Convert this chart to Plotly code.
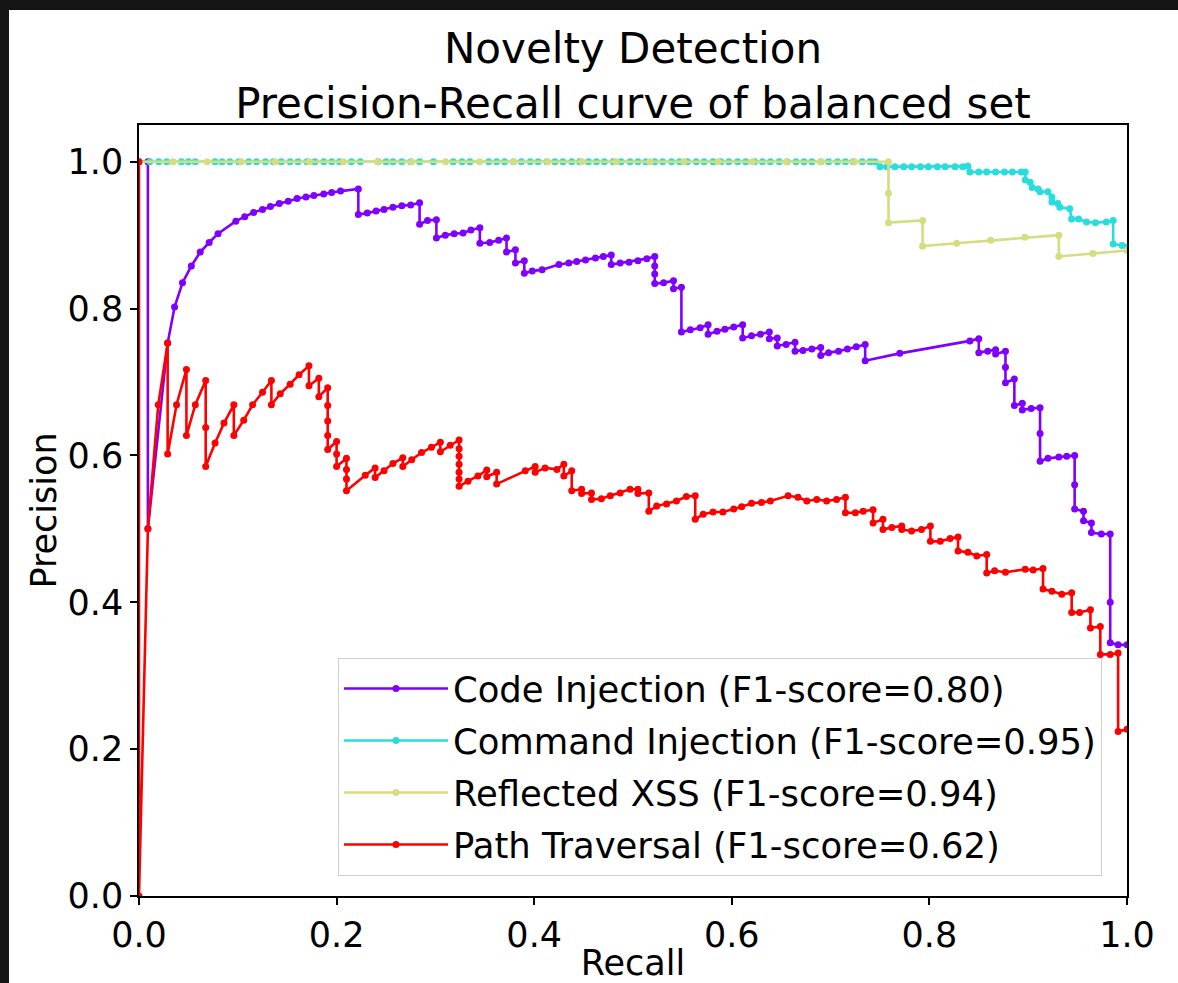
import plotly.graph_objects as go

# ---------------- data (recall, precision) ----------------
code_injection = [
    (0.0, 1.0), (0.009, 1.0), (0.009, 0.5), (0.029, 0.753), (0.036, 0.802), (0.044, 0.835),
    (0.053, 0.858), (0.062, 0.877), (0.071, 0.890), (0.080, 0.902), (0.098, 0.919), (0.107, 0.925),
    (0.116, 0.931), (0.125, 0.935), (0.133, 0.939), (0.142, 0.943), (0.151, 0.946), (0.160, 0.950),
    (0.169, 0.952), (0.177, 0.954), (0.187, 0.956), (0.195, 0.958), (0.204, 0.960), (0.222, 0.963),
    (0.222, 0.928), (0.231, 0.930), (0.240, 0.933), (0.248, 0.935), (0.257, 0.938), (0.266, 0.940),
    (0.275, 0.941), (0.284, 0.944), (0.284, 0.915), (0.292, 0.920), (0.301, 0.921), (0.301, 0.896),
    (0.310, 0.900), (0.319, 0.902), (0.328, 0.903), (0.336, 0.907), (0.345, 0.910), (0.345, 0.889),
    (0.355, 0.890), (0.364, 0.893), (0.372, 0.896), (0.372, 0.877), (0.381, 0.880), (0.381, 0.862),
    (0.390, 0.865), (0.390, 0.848), (0.398, 0.851), (0.408, 0.853), (0.425, 0.860), (0.435, 0.862),
    (0.443, 0.864), (0.452, 0.866), (0.462, 0.869), (0.470, 0.871), (0.478, 0.873), (0.478, 0.860),
    (0.487, 0.862), (0.496, 0.863), (0.505, 0.865), (0.514, 0.868), (0.522, 0.871), (0.522, 0.858),
    (0.522, 0.847), (0.522, 0.834), (0.531, 0.835), (0.541, 0.838), (0.541, 0.827), (0.549, 0.829),
    (0.549, 0.768), (0.558, 0.771), (0.568, 0.774), (0.576, 0.778), (0.576, 0.765), (0.585, 0.769),
    (0.593, 0.772), (0.602, 0.775), (0.611, 0.778), (0.611, 0.760), (0.620, 0.763), (0.629, 0.765),
    (0.638, 0.768), (0.638, 0.759), (0.646, 0.760), (0.646, 0.749), (0.655, 0.751), (0.664, 0.754),
    (0.664, 0.742), (0.672, 0.743), (0.681, 0.745), (0.690, 0.747), (0.690, 0.736), (0.698, 0.740),
    (0.708, 0.742), (0.717, 0.745), (0.726, 0.748), (0.735, 0.751), (0.735, 0.729), (0.770, 0.739),
    (0.841, 0.756), (0.850, 0.759), (0.850, 0.740), (0.859, 0.742), (0.867, 0.744), (0.867, 0.738),
    (0.877, 0.742), (0.877, 0.720), (0.877, 0.699), (0.886, 0.704), (0.886, 0.668), (0.894, 0.671),
    (0.894, 0.662), (0.903, 0.664), (0.912, 0.665), (0.912, 0.630), (0.912, 0.592), (0.920, 0.596),
    (0.931, 0.598), (0.939, 0.599), (0.947, 0.600), (0.947, 0.560), (0.947, 0.527), (0.956, 0.524),
    (0.956, 0.511), (0.964, 0.508), (0.964, 0.495), (0.974, 0.493), (0.983, 0.493), (0.983, 0.400),
    (0.983, 0.345), (0.991, 0.342), (1.0, 0.342),
]

command_injection = [
    (0.0, 1.0), (0.011, 1.0), (0.020, 1.0), (0.028, 1.0), (0.043, 1.0), (0.050, 1.0), (0.057, 1.0),
    (0.077, 1.0), (0.084, 1.0), (0.092, 1.0), (0.101, 1.0), (0.111, 1.0), (0.119, 1.0), (0.128, 1.0),
    (0.136, 1.0), (0.144, 1.0), (0.153, 1.0), (0.161, 1.0), (0.170, 1.0), (0.178, 1.0), (0.187, 1.0),
    (0.195, 1.0), (0.203, 1.0), (0.215, 1.0), (0.224, 1.0), (0.242, 1.0), (0.250, 1.0), (0.257, 1.0),
    (0.266, 1.0), (0.275, 1.0), (0.284, 1.0), (0.298, 1.0), (0.318, 1.0), (0.327, 1.0), (0.335, 1.0),
    (0.354, 1.0), (0.362, 1.0), (0.370, 1.0), (0.379, 1.0), (0.387, 1.0), (0.396, 1.0), (0.404, 1.0),
    (0.413, 1.0), (0.421, 1.0), (0.429, 1.0), (0.438, 1.0), (0.446, 1.0), (0.455, 1.0), (0.463, 1.0),
    (0.471, 1.0), (0.480, 1.0), (0.488, 1.0), (0.497, 1.0), (0.505, 1.0), (0.513, 1.0), (0.522, 1.0),
    (0.530, 1.0), (0.539, 1.0), (0.547, 1.0), (0.555, 1.0), (0.564, 1.0), (0.572, 1.0), (0.581, 1.0),
    (0.589, 1.0), (0.597, 1.0), (0.606, 1.0), (0.614, 1.0), (0.623, 1.0), (0.631, 1.0), (0.639, 1.0),
    (0.648, 1.0), (0.656, 1.0), (0.665, 1.0), (0.673, 1.0), (0.681, 1.0), (0.690, 1.0), (0.698, 1.0),
    (0.707, 1.0), (0.715, 1.0), (0.723, 1.0), (0.732, 1.0), (0.740, 1.0), (0.745, 1.0),
    (0.750, 0.993), (0.757, 0.993), (0.765, 0.993), (0.774, 0.993), (0.782, 0.993), (0.791, 0.993),
    (0.799, 0.993), (0.808, 0.993), (0.816, 0.993), (0.826, 0.993), (0.834, 0.993), (0.839, 0.994),
    (0.841, 0.986), (0.850, 0.986), (0.858, 0.986), (0.867, 0.986), (0.876, 0.986), (0.884, 0.986),
    (0.893, 0.986), (0.897, 0.986), (0.897, 0.975), (0.902, 0.972), (0.904, 0.965), (0.910, 0.963),
    (0.912, 0.959), (0.920, 0.959), (0.924, 0.952), (0.924, 0.945), (0.930, 0.943), (0.932, 0.938),
    (0.942, 0.936), (0.944, 0.922), (0.951, 0.922), (0.959, 0.918), (0.968, 0.917), (0.979, 0.918),
    (0.986, 0.920), (0.986, 0.888), (0.995, 0.886), (1.0, 0.884),
]

reflected_xss = [
    (0.0, 1.0), (0.0345, 1.0), (0.069, 1.0), (0.1034, 1.0), (0.1379, 1.0), (0.1724, 1.0),
    (0.2069, 1.0), (0.2414, 1.0), (0.2759, 1.0), (0.3103, 1.0), (0.3448, 1.0), (0.3793, 1.0),
    (0.4138, 1.0), (0.4483, 1.0), (0.4828, 1.0), (0.5172, 1.0), (0.5517, 1.0), (0.5862, 1.0),
    (0.6207, 1.0), (0.6552, 1.0), (0.6897, 1.0), (0.7241, 1.0), (0.7586, 1.0), (0.7586, 0.957),
    (0.7586, 0.917), (0.7931, 0.920), (0.7931, 0.885), (0.8276, 0.889), (0.8621, 0.893),
    (0.8966, 0.897), (0.9310, 0.900), (0.9310, 0.871), (0.9655, 0.875), (1.0, 0.879),
]

path_traversal = [
    (0.0, 1.0), (0.0, 0.0), (0.009, 0.5), (0.0195, 0.669), (0.029, 0.753), (0.029, 0.602),
    (0.038, 0.669), (0.048, 0.717), (0.048, 0.627), (0.057, 0.669), (0.0675, 0.702), (0.0675, 0.638),
    (0.0675, 0.585), (0.077, 0.617), (0.086, 0.644), (0.096, 0.669), (0.096, 0.627), (0.106, 0.648),
    (0.115, 0.669), (0.125, 0.686), (0.134, 0.702), (0.134, 0.669), (0.143, 0.684), (0.153, 0.697),
    (0.162, 0.710), (0.172, 0.722), (0.172, 0.695), (0.182, 0.705), (0.182, 0.680), (0.191, 0.692),
    (0.191, 0.668), (0.191, 0.647), (0.191, 0.627), (0.191, 0.608), (0.200, 0.619), (0.200, 0.602),
    (0.200, 0.585), (0.210, 0.596), (0.210, 0.581), (0.210, 0.568), (0.210, 0.552), (0.229, 0.573),
    (0.239, 0.583), (0.239, 0.570), (0.248, 0.579), (0.257, 0.589), (0.267, 0.597), (0.267, 0.585),
    (0.276, 0.594), (0.286, 0.604), (0.296, 0.611), (0.305, 0.618), (0.305, 0.605), (0.315, 0.614),
    (0.324, 0.621), (0.324, 0.609), (0.324, 0.599), (0.324, 0.588), (0.324, 0.577), (0.324, 0.568),
    (0.324, 0.558), (0.333, 0.565), (0.343, 0.572), (0.352, 0.580), (0.352, 0.571), (0.362, 0.577),
    (0.362, 0.561), (0.391, 0.579), (0.401, 0.585), (0.401, 0.577), (0.411, 0.583), (0.423, 0.581),
    (0.430, 0.588), (0.430, 0.572), (0.438, 0.579), (0.438, 0.552), (0.448, 0.554), (0.448, 0.548),
    (0.458, 0.549), (0.458, 0.540), (0.468, 0.541), (0.477, 0.545), (0.487, 0.549), (0.497, 0.554),
    (0.505, 0.554), (0.505, 0.548), (0.516, 0.549), (0.516, 0.524), (0.524, 0.531), (0.534, 0.534),
    (0.544, 0.538), (0.554, 0.544), (0.563, 0.545), (0.563, 0.513), (0.571, 0.520), (0.581, 0.523),
    (0.591, 0.523), (0.602, 0.527), (0.610, 0.530), (0.620, 0.535), (0.630, 0.536), (0.639, 0.538),
    (0.657, 0.545), (0.667, 0.543), (0.676, 0.538), (0.686, 0.540), (0.696, 0.538), (0.706, 0.540),
    (0.715, 0.543), (0.715, 0.522), (0.725, 0.522), (0.733, 0.524), (0.743, 0.526), (0.743, 0.508),
    (0.753, 0.513), (0.753, 0.499), (0.762, 0.502), (0.772, 0.504), (0.772, 0.499), (0.782, 0.497),
    (0.792, 0.499), (0.801, 0.504), (0.801, 0.483), (0.811, 0.483), (0.821, 0.487), (0.829, 0.489),
    (0.829, 0.470), (0.839, 0.468), (0.848, 0.463), (0.858, 0.465), (0.858, 0.440), (0.866, 0.443),
    (0.877, 0.441), (0.897, 0.445), (0.905, 0.444), (0.915, 0.446), (0.915, 0.418), (0.924, 0.415),
    (0.934, 0.411), (0.944, 0.413), (0.944, 0.386), (0.952, 0.386), (0.963, 0.390), (0.963, 0.365),
    (0.973, 0.367), (0.973, 0.329), (0.983, 0.329), (0.991, 0.331), (0.991, 0.224), (1.0, 0.227),
]

series_names = [
    "Code Injection (F1-score=0.80)",
    "Command Injection (F1-score=0.95)",
    "Reflected XSS (F1-score=0.94)",
    "Path Traversal (F1-score=0.62)",
]
series_data = [code_injection, command_injection, reflected_xss, path_traversal]
series_colors = ["#8000ff", "#2adddd", "#d4dd80", "#ff0000"]

tick_vals = [0.0, 0.2, 0.4, 0.6, 0.8, 1.0]
tick_text = ["0.0", "0.2", "0.4", "0.6", "0.8", "1.0"]

# ---------------- layout constants (pixels) ----------------
W, H = 1178, 983
L, R, T, B = 139, 51, 125, 87
PW, PH = W - L - R, H - T - B
FONT = "DejaVu Sans"


def px_to_paper_x(px):
    return (px - L) / PW


def px_to_paper_y(py):
    return (H - B - py) / PH


fig = go.Figure()
for i, (name, pts, col) in enumerate(zip(series_names, series_data, series_colors)):
    fig.add_trace(go.Scatter(
        x=[p[0] for p in pts], y=[p[1] for p in pts],
        mode="lines+markers", name=name,
        line=dict(color=col, width=2.6),
        marker=dict(color=col, size=7),
        legendgroup=f"g{i}",
    ))

axis_common = dict(
    showgrid=False, zeroline=False, showline=True, linecolor="black", linewidth=1.5,
    mirror=True, ticks="outside", ticklen=7, tickwidth=1.5, tickcolor="black",
    tickvals=tick_vals, ticktext=tick_text, automargin=False,
    tickfont=dict(family=FONT, size=35, color="black"),
)

fig.update_layout(
    template="none",
    width=W, height=H,
    margin=dict(l=L, r=R, t=T, b=B, pad=0, autoexpand=False),
    paper_bgcolor="white", plot_bgcolor="white",
    title=dict(
        text="Novelty Detection<br>Precision-Recall curve of balanced set",
        x=px_to_paper_x(633), xref="paper", xanchor="center",
        y=1 - 63 / H, yref="container", yanchor="middle",
        font=dict(family=FONT, size=42, color="black"),
    ),
    xaxis=dict(range=[0, 1.0], title=dict(text="Recall", font=dict(family=FONT, size=35, color="black"), standoff=7),
               **axis_common),
    yaxis=dict(range=[0, 1.05], title=dict(text="Precision", font=dict(family=FONT, size=35, color="black"), standoff=0),
               **axis_common),
    legend=dict(
        x=px_to_paper_x(338), y=px_to_paper_y(876), xanchor="left", yanchor="bottom",
        bgcolor="white", bordercolor="#d0d0d0", borderwidth=1,
        font=dict(family=FONT, size=35.4, color="black"),
        tracegroupgap=3, itemwidth=104,
    ),
    showlegend=True,
)

# dark frame strips at the top and left edge of the picture
dark = "#141414"
fig.add_shape(type="rect", xref="paper", yref="paper", layer="above",
              x0=px_to_paper_x(0), x1=px_to_paper_x(9), y0=px_to_paper_y(H), y1=px_to_paper_y(0),
              fillcolor=dark, line=dict(width=0))
fig.add_shape(type="rect", xref="paper", yref="paper", layer="above",
              x0=px_to_paper_x(0), x1=px_to_paper_x(W), y0=px_to_paper_y(10), y1=px_to_paper_y(0),
              fillcolor=dark, line=dict(width=0))

fig.write_html("out.html")
